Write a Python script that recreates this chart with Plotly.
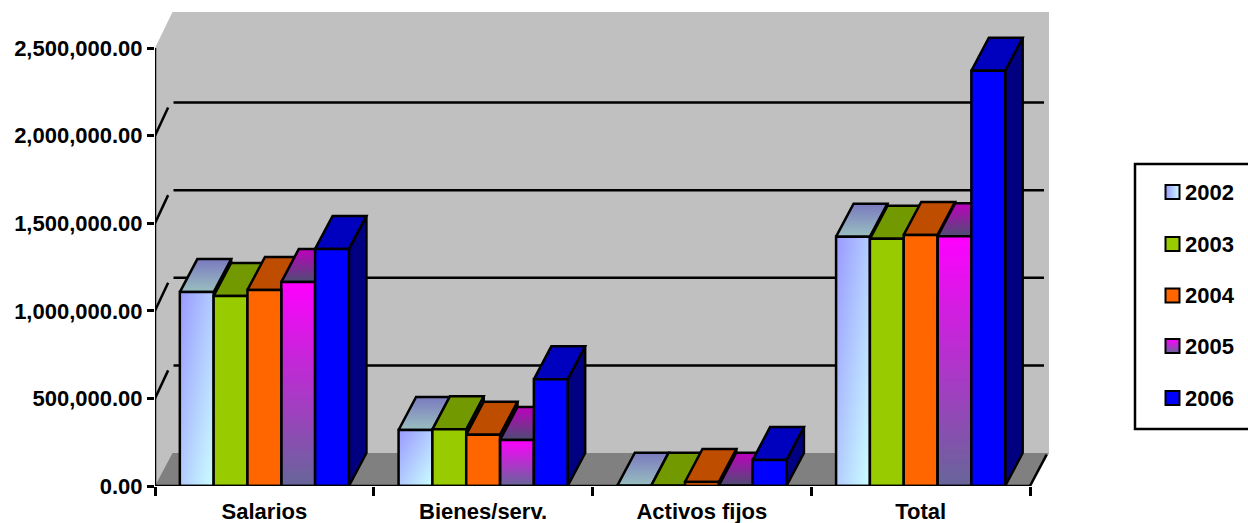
import numpy as np
import plotly.graph_objects as go

# ---------- data ----------
categories = ["Salarios", "Bienes/serv.", "Activos fijos", "Total"]
years = ["2002", "2003", "2004", "2005", "2006"]
v2002 = [1107000, 319600, 2000, 1423000]
v2003 = [1085000, 323600, 1500, 1411000]
v2004 = [1119000, 292800, 23000, 1433000]
v2005 = [1164000, 262600, 1500, 1425000]
v2006 = [1353000, 609000, 148000, 2370000]
series = [v2002, v2003, v2004, v2005, v2006]
y_ticks = [0, 500000, 1000000, 1500000, 2000000, 2500000]

# ---------- styling ----------
W, H = 1248, 523
FONT = "Liberation Sans"
front = ["#B4D0FF", "#99CC00", "#FF6600", "#B040C8", "#0000FF"]
top_c = ["#8498C0", "#739900", "#BF4D00", "#80409A", "#0000BF"]
side_c = ["#5A6C80", "#4D6600", "#803300", "#553366", "#000080"]
legend_y_px = [192, 244, 295.5, 346, 398]

PX_X = 218.75
px_per_val = 438 / 2500000
x0_px, y0_px = 155, 486
x_lo, x_hi = -0.5, 3.5 + 19 / PX_X
y_hi = (y0_px - 12) / px_per_val
DX = 17.5 / PX_X          # depth projection of a bar / wall
DY = 33 / px_per_val
BW = 0.773 / 5            # bar width in category units
LW = 2.5

fig = go.Figure()


def poly(xs, ys, fill=None, gradient=None, line=True, xa="x", ya="y", lw=LW):
    kw = dict(fillcolor=fill) if fill else {}
    if gradient:
        kw["fillgradient"] = gradient
    fig.add_trace(go.Scatter(
        x=list(xs) + [xs[0]], y=list(ys) + [ys[0]], mode="lines", fill="toself",
        line=dict(color="black" if line else "rgba(0,0,0,0)", width=lw if line else 0),
        hoverinfo="skip", showlegend=False, cliponaxis=False, xaxis=xa, yaxis=ya, **kw))


def seg(xs, ys, xa="x", ya="y", lw=LW):
    fig.add_trace(go.Scatter(
        x=xs, y=ys, mode="lines", line=dict(color="black", width=lw),
        hoverinfo="skip", showlegend=False, cliponaxis=False, xaxis=xa, yaxis=ya))


# walls and floor
poly([x_lo, x_lo, x_lo + DX, x_hi, x_hi, x_lo], [0, 2500000, y_hi, y_hi, DY, 0],
     fill="#C0C0C0", line=False)
poly([x_lo, x_lo + DX, x_hi, 3.5], [0, DY, DY, 0], fill="#808080", line=False)
seg([3.5, 3.5 + DX * 0.95], [0, DY * 0.95])

# gridlines on back and side wall
for t in y_ticks[1:-1]:
    seg([x_lo + DX + 1 / PX_X, 3.5 + 14 / PX_X], [t + DY, t + DY])
    seg([x_lo, x_lo + DX * 0.75], [t, t + DY * 0.85])

# value axis line
seg([x_lo, x_lo], [0, 2500000])

# back faces, drawn left to right so later ones cover earlier ones
grad_top = {
    0: dict(type="vertical", colorscale=[[0, "#99BFBF"], [1, "#7A7ABF"]]),
    3: dict(type="vertical", colorscale=[[0, "#4D4D73"], [1, "#BF00BF"]]),
}
for c in range(len(categories)):
    for i, s in enumerate(series):
        v = s[c]
        xl = c - 2.5 * BW + i * BW
        xr = xl + BW
        poly([xr, xr + DX, xr + DX, xr], [0, DY, v + DY, v], fill=side_c[i])
        if i in grad_top:
            poly([xl, xr, xr + DX, xl + DX], [v, v, v + DY, v + DY],
                 fill=top_c[i], gradient=grad_top[i])
        else:
            poly([xl, xr, xr + DX, xl + DX], [v, v, v + DY, v + DY], fill=top_c[i])

# gradient front faces (heatmaps lie under the outlined bars of the overlay subplot)
cs_2002 = [[0, "#9999FF"], [1, "#CCFFFF"]]
cs_2005 = [[0, "#FF00FF"], [1, "#666699"]]
NX, NY = 34, 90
for c in range(len(categories)):
    for i, cs in ((0, cs_2002), (3, cs_2005)):
        v = series[i][c]
        if v < 10000:
            continue
        xl = c - 2.5 * BW + i * BW
        xs = xl + (np.arange(NX) + 0.5) * BW / NX
        ys = (np.arange(NY) + 0.5) * v / NY
        u = (np.arange(NX) + 0.5) / NX
        w = 1 - (np.arange(NY) + 0.5) / NY
        z = (u[None, :] + w[:, None]) / 2 if i == 0 else np.repeat(w[:, None], NX, axis=1)
        fig.add_trace(go.Heatmap(x=xs, y=ys, z=z, colorscale=cs, zmin=0, zmax=1,
                                 showscale=False, hoverinfo="skip", xaxis="x2", yaxis="y2"))

# front faces
for i, s in enumerate(series):
    fill = "rgba(0,0,0,0)" if i in (0, 3) else front[i]
    fig.add_trace(go.Bar(name=years[i], x=list(range(len(categories))), y=s,
                         marker=dict(color=fill, line=dict(color="black", width=LW)),
                         cliponaxis=False, showlegend=False, xaxis="x2", yaxis="y2"))

# category axis line, above the bars
seg([x_lo, 3.5], [0, 0], xa="x2", ya="y2")

# legend swatches (on a full-page helper axis pair)
sw_start = ["#9999FF", "#99CC00", "#FF6600", "#FF00FF", "#0000FF"]
sw_end = ["#CCFFFF", "#99CC00", "#FF6600", "#666699", "#0000FF"]
for i, yr in enumerate(years):
    fig.add_trace(go.Scatter(
        x=[1172.5 / W], y=[1 - legend_y_px[i] / H], mode="markers", name=yr, showlegend=False,
        marker=dict(symbol="square", size=14, color=sw_start[i],
                    gradient=dict(type="vertical" if i == 3 else "horizontal", color=sw_end[i]),
                    line=dict(color="black", width=2)),
        hoverinfo="skip", xaxis="x3", yaxis="y3"))
annotations = [dict(text=f"<b>{yr}</b>", xref="paper", yref="paper", x=1183 / W,
                    y=1 - legend_y_px[i] / H, xanchor="left", yanchor="middle",
                    showarrow=False, font=dict(family=FONT, size=22, color="black"))
               for i, yr in enumerate(years)]

dom_x = [x0_px / W, (x0_px + (x_hi - x_lo) * PX_X) / W]
dom_y = [(H - y0_px) / H, (H - 12) / H]
tick_font = dict(family=FONT, size=22, color="black", weight="bold")
fig.update_layout(
    width=W, height=H, margin=dict(l=0, r=0, t=0, b=0, autoexpand=False), autosize=False,
    paper_bgcolor="white", plot_bgcolor="rgba(0,0,0,0)", showlegend=False,
    barmode="group", bargap=0.227, bargroupgap=0, annotations=annotations,
    shapes=[dict(type="rect", xref="paper", yref="paper", x0=1135 / W, x1=1.02,
                 y0=1 - 429 / H, y1=1 - 164 / H, line=dict(color="black", width=2.5),
                 fillcolor="white", layer="below")],
    xaxis=dict(domain=dom_x, range=[x_lo, x_hi], tickvals=list(range(len(categories))),
               ticktext=categories, tickfont=tick_font, showgrid=False, zeroline=False,
               showline=False, ticks="outside", ticklen=6, tickcolor="rgba(0,0,0,0)",
               anchor="y"),
    yaxis=dict(domain=dom_y, range=[0, y_hi], tickvals=y_ticks, tickformat=",.2f",
               tickfont=tick_font, showgrid=False, zeroline=False, showline=False,
               ticks="outside", ticklen=7, tickwidth=2.5, tickcolor="black", anchor="x"),
    xaxis2=dict(domain=dom_x, range=[x_lo, x_hi], overlaying="x", anchor="y2",
                tickvals=[-0.5, 0.5, 1.5, 2.5, 3.5], ticktext=[""] * 5, ticks="outside",
                ticklen=9, tickwidth=2.5, tickcolor="black", showgrid=False, zeroline=False,
                showline=False),
    yaxis2=dict(domain=dom_y, range=[0, y_hi], overlaying="y", anchor="x2", visible=False),
    xaxis3=dict(domain=[0, 1], range=[0, 1], anchor="y3", visible=False),
    yaxis3=dict(domain=[0, 1], range=[0, 1], anchor="x3", visible=False),
)

fig.write_html("out.html", config=dict(displayModeBar=False),
               post_script="document.body.style.margin='0';")
